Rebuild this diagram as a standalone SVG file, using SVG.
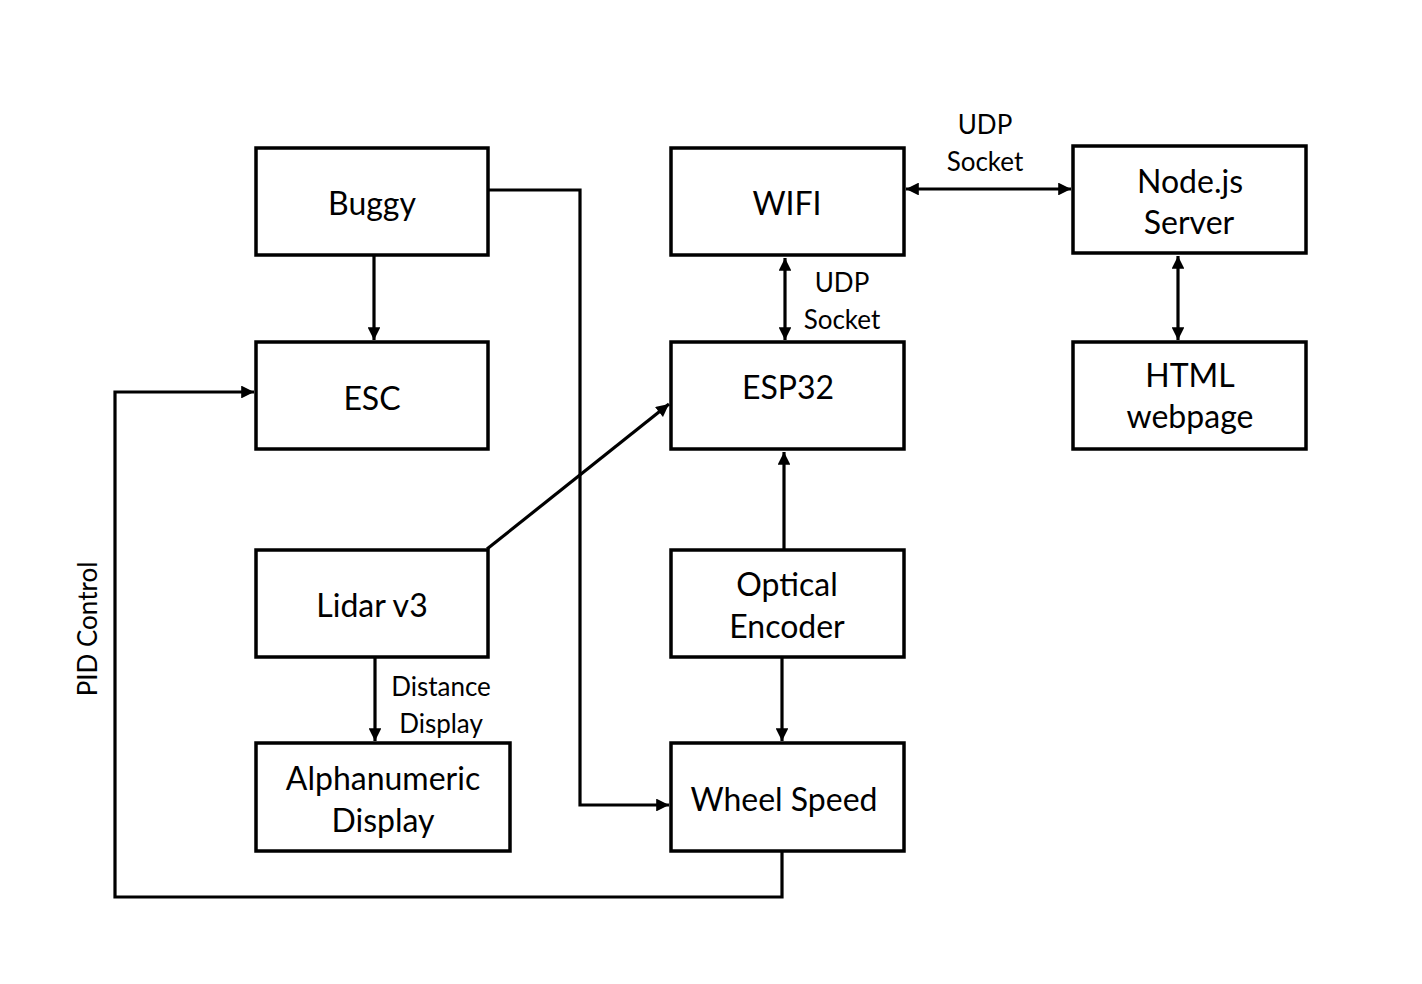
<svg xmlns="http://www.w3.org/2000/svg" width="1422" height="984" viewBox="0 0 1422 984">
<style>
.box{fill:#fff;stroke:#000;stroke-width:3.5}
.t{font-family:Lato,"Open Sans",sans-serif;font-size:32px;fill:#000;text-anchor:middle}
.l{font-family:Lato,"Open Sans",sans-serif;font-size:26px;fill:#000;text-anchor:middle}
.c{fill:none;stroke:#000;stroke-width:3.2}
</style>
<defs>
<marker id="ah" viewBox="0 0 10 10" refX="10" refY="5" markerWidth="4.2" markerHeight="4" orient="auto-start-reverse" markerUnits="strokeWidth">
<path d="M0,0 L10,5 L0,10 z" fill="#000"/>
</marker>
</defs>
<rect width="1422" height="984" fill="#fff"/>
<g id="connectors">
<line class="c" x1="374" y1="256" x2="374" y2="340" marker-end="url(#ah)"/>
<polyline class="c" points="488,190 580,190 580,805 669,805" marker-end="url(#ah)"/>
<line class="c" x1="487" y1="549" x2="669" y2="404" marker-end="url(#ah)"/>
<line class="c" x1="375" y1="658" x2="375" y2="741" marker-end="url(#ah)"/>
<line class="c" x1="784" y1="550" x2="784" y2="452" marker-end="url(#ah)"/>
<line class="c" x1="782" y1="658" x2="782" y2="741" marker-end="url(#ah)"/>
<polyline class="c" points="782,852 782,897 115,897 115,392 254,392" marker-end="url(#ah)"/>
<line class="c" x1="785" y1="258" x2="785" y2="340" marker-start="url(#ah)" marker-end="url(#ah)"/>
<line class="c" x1="906" y1="189" x2="1071" y2="189" marker-start="url(#ah)" marker-end="url(#ah)"/>
<line class="c" x1="1178" y1="256" x2="1178" y2="340" marker-start="url(#ah)" marker-end="url(#ah)"/>
<text class="l" x="985" y="134">UDP</text>
<text class="l" x="985" y="171">Socket</text>
<text class="l" x="842" y="292">UDP</text>
<text class="l" x="842" y="329">Socket</text>
<text class="l" x="441" y="696">Distance</text>
<text class="l" x="441" y="733">Display</text>
<text class="l" transform="translate(97,629) rotate(-90)">PID Control</text>
</g>
<g id="buggy"><rect class="box" x="256" y="148" width="232" height="107"/><text class="t" x="372" y="215">Buggy</text></g>
<g id="esc"><rect class="box" x="256" y="342" width="232" height="107"/><text class="t" x="372" y="410">ESC</text></g>
<g id="lidar"><rect class="box" x="256" y="550" width="232" height="107"/><text class="t" x="372" y="617">Lidar v3</text></g>
<g id="alnum"><rect class="box" x="256" y="743" width="254" height="108"/><text class="t" x="383" y="790">Alphanumeric</text><text class="t" x="383" y="832">Display</text></g>
<g id="wifi"><rect class="box" x="671" y="148" width="233" height="107"/><text class="t" x="787" y="215">WIFI</text></g>
<g id="esp32"><rect class="box" x="671" y="342" width="233" height="107"/><text class="t" x="788" y="399">ESP32</text></g>
<g id="optical"><rect class="box" x="671" y="550" width="233" height="107"/><text class="t" x="787" y="596">Optical</text><text class="t" x="787" y="638">Encoder</text></g>
<g id="wheel"><rect class="box" x="671" y="743" width="233" height="108"/><text class="t" x="784" y="811">Wheel Speed</text></g>
<g id="node"><rect class="box" x="1073" y="146" width="233" height="107"/><text class="t" x="1190" y="193">Node.js</text><text class="t" x="1189" y="234">Server</text></g>
<g id="html"><rect class="box" x="1073" y="342" width="233" height="107"/><text class="t" x="1190" y="387">HTML</text><text class="t" x="1190" y="428">webpage</text></g>
</svg>
